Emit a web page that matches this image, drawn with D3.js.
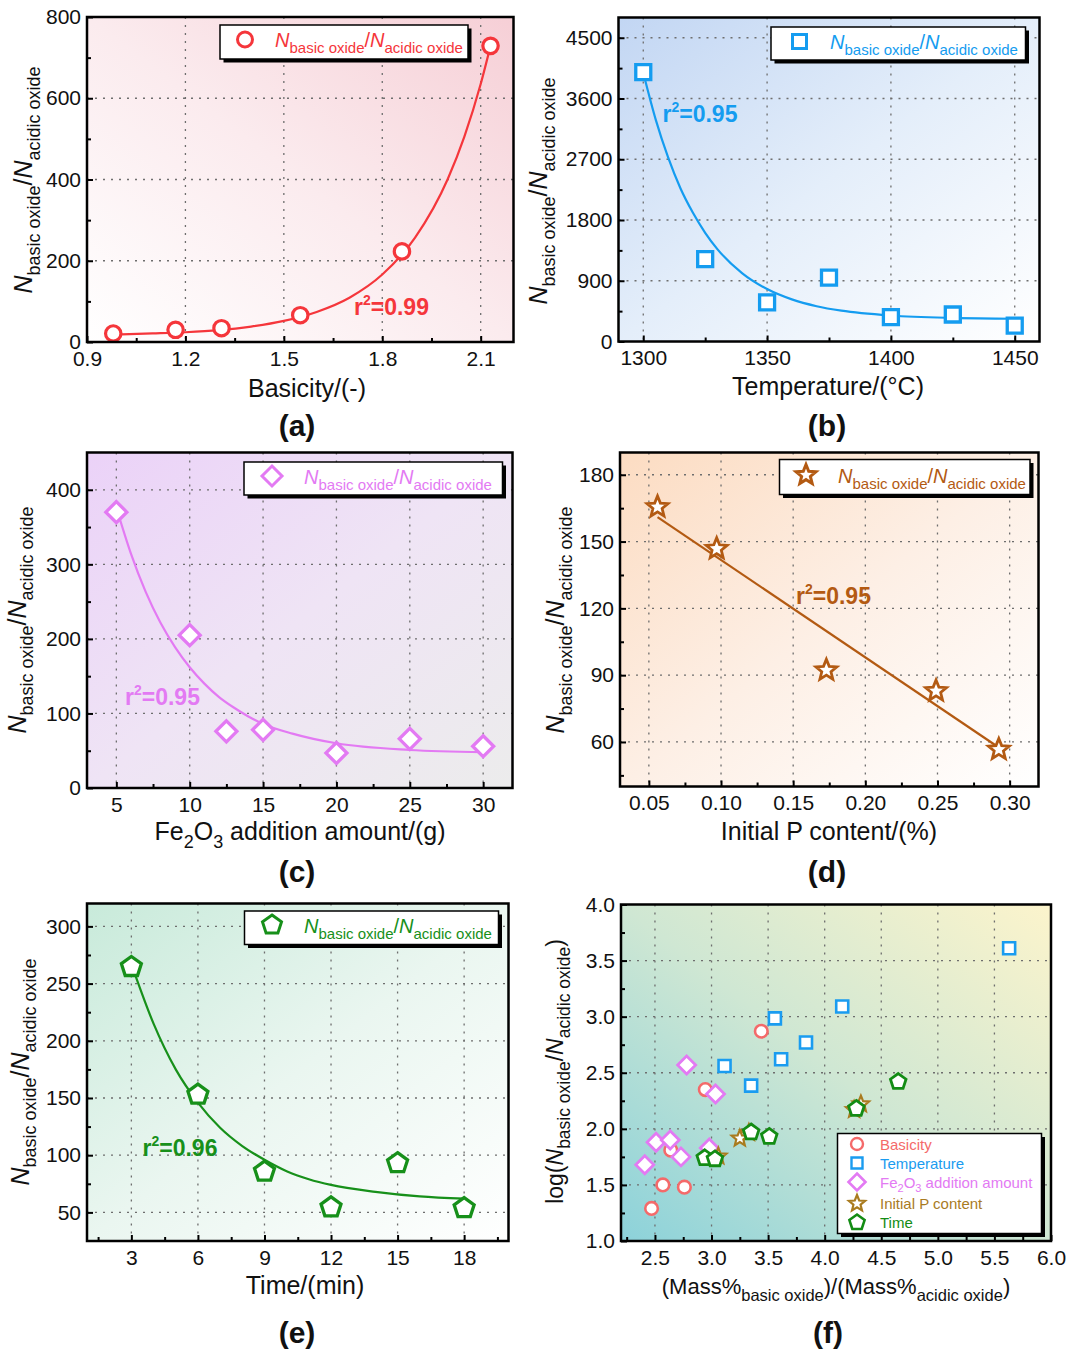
<!DOCTYPE html>
<html>
<head>
<meta charset="utf-8">
<script src="https://d3js.org/d3.v7.min.js"></script>
<style>
  body { margin: 0; background: #fff; }
  svg { display: block; }
</style>
</head>
<body>
<div id="chart"></div>
<script>
// ---- data ----
// (a) basicity
var basicity = [0.98, 1.17, 1.31, 1.55, 1.86, 2.13];
var basicityRatio = [21, 30, 34, 66, 223, 729];
var basicityFitX = [0.98, 1.1, 1.2, 1.3, 1.4, 1.5, 1.6, 1.7, 1.8, 1.9, 2.0, 2.05, 2.1, 2.13];
var basicityFitY = [18, 21, 24, 29, 38, 52, 74, 109, 166, 257, 402, 505, 635, 729];
var aTicksX = [0.9, 1.2, 1.5, 1.8, 2.1];
var aTicksY = [0, 200, 400, 600, 800];

// (b) temperature
var temperature = [1300, 1325, 1350, 1375, 1400, 1425, 1450];
var temperatureRatio = [3990, 1220, 580, 945, 360, 400, 235];
var temperatureFitX = [1300, 1305, 1310, 1315, 1320, 1325, 1330, 1340, 1350, 1360, 1370, 1380, 1400, 1425, 1450];
var temperatureFitY = [3980, 3290, 2730, 2270, 1910, 1610, 1365, 1010, 777, 624, 523, 457, 385, 349, 337];
var bTicksX = [1300, 1350, 1400, 1450];
var bTicksY = [0, 900, 1800, 2700, 3600, 4500];

// (c) Fe2O3 addition
var fe2o3 = [5, 10, 12.5, 15, 20, 25, 30];
var fe2o3Ratio = [370, 205, 76, 78, 47, 66, 56];
var fe2o3FitX = [5, 6, 7, 8, 9, 10, 11, 12, 13, 14, 15, 17, 20, 25, 30];
var fe2o3FitY = [376, 314, 263, 222, 189, 162, 140, 122, 108, 96, 86, 73, 60, 51, 48];
var cTicksX = [5, 10, 15, 20, 25, 30];
var cTicksY = [0, 100, 200, 300, 400];

// (d) initial P content
var pContent = [0.056, 0.097, 0.173, 0.249, 0.2925];
var pRatio = [165.5, 146.8, 92.2, 82.9, 56.6];
var pFitX = [0.056, 0.2925];
var pFitY = [161, 57.5];
var dTicksX = [0.05, 0.10, 0.15, 0.20, 0.25, 0.30];
var dTicksY = [60, 90, 120, 150, 180];

// (e) time
var time = [3, 6, 9, 12, 15, 18];
var timeRatio = [264.5, 153, 85.7, 54.4, 93, 53.8];
var timeFitX = [3, 4, 5, 6, 7, 8, 9, 10, 11, 12, 14, 16, 18];
var timeFitY = [267, 215, 175, 146, 124, 108, 96, 86, 79, 74, 68, 64, 62];
var eTicksX = [3, 6, 9, 12, 15, 18];
var eTicksY = [50, 100, 150, 200, 250, 300];

// (f) log ratio vs mass ratio
var fBasicityX = [3.44, 2.945, 2.64, 2.57, 2.76, 2.47];
var fBasicityY = [2.87, 2.35, 1.81, 1.50, 1.48, 1.29];
var fTempX = [5.63, 4.155, 3.56, 3.835, 3.615, 3.115, 3.35];
var fTempY = [3.61, 3.09, 2.985, 2.77, 2.62, 2.56, 2.385];
var fFeX = [2.78, 3.035, 2.51, 2.635, 2.98, 2.73, 2.41];
var fFeY = [2.57, 2.31, 1.88, 1.90, 1.83, 1.75, 1.68];
var fPX = [4.32, 4.26, 3.33, 3.25, 3.06];
var fPY = [2.22, 2.17, 1.965, 1.915, 1.755];
var fTimeX = [4.65, 4.28, 3.35, 3.51, 2.94, 3.03];
var fTimeY = [2.42, 2.18, 1.97, 1.93, 1.74, 1.73];
var fTicksX = [2.5, 3.0, 3.5, 4.0, 4.5, 5.0, 5.5, 6.0];
var fTicksY = [1.0, 1.5, 2.0, 2.5, 3.0, 3.5, 4.0];

var FONT = "Arial, 'Liberation Sans', sans-serif";

var svg = d3.select("#chart").append("svg")
  .attr("width", 1068)
  .attr("height", 1355)
  .attr("font-family", FONT);
var defs = svg.append("defs");

// marker outlines
function shapePath(type, r) {
  var p = d3.path();
  if (type === "circle") {
    p.arc(0, 0, r, 0, 2 * Math.PI);
    p.closePath();
  } else if (type === "square") {
    p.rect(-r, -r, 2 * r, 2 * r);
  } else if (type === "diamond") {
    p.moveTo(0, -r); p.lineTo(r, 0); p.lineTo(0, r); p.lineTo(-r, 0); p.closePath();
  } else if (type === "star") {
    for (var i = 0; i < 10; i++) {
      var a = -Math.PI / 2 + i * Math.PI / 5;
      var rr = i % 2 ? r * 0.44 : r;
      if (i === 0) p.moveTo(rr * Math.cos(a), rr * Math.sin(a));
      else p.lineTo(rr * Math.cos(a), rr * Math.sin(a));
    }
    p.closePath();
  } else if (type === "pentagon") {
    for (var j = 0; j < 5; j++) {
      var b = -Math.PI / 2 + j * 2 * Math.PI / 5;
      if (j === 0) p.moveTo(r * Math.cos(b), r * Math.sin(b));
      else p.lineTo(r * Math.cos(b), r * Math.sin(b));
    }
    p.closePath();
  }
  return p.toString();
}

// text with sub/superscripts
function addRich(text, parts, F, S) {
  var shift = 0;
  parts.forEach(function(p) {
    var target = p.sub ? 0.3 * F : (p.sup ? -0.42 * F : 0);
    var ts = text.append("tspan")
      .attr("dy", target - shift)
      .attr("font-size", (p.sub || p.sup) ? S : F)
      .text(p.t);
    if (p.it) ts.attr("font-style", "italic");
    shift = target;
  });
  return text;
}

var ratioParts = [
  {t: "N", it: 1}, {t: "basic oxide", sub: 1}, {t: "/"},
  {t: "N", it: 1}, {t: "acidic oxide", sub: 1}
];

function drawPanel(p) {
  var x0 = p.box[0], y0 = p.box[1], x1 = p.box[2], y1 = p.box[3];
  var x = d3.scaleLinear().domain(p.xDom).range([x0, x1]);
  var y = d3.scaleLinear().domain(p.yDom).range([y1, y0]);

  // background gradient
  var grad = defs.append("linearGradient").attr("id", "bg" + p.id)
    .attr("x1", p.gradDir[0]).attr("y1", p.gradDir[1])
    .attr("x2", p.gradDir[2]).attr("y2", p.gradDir[3]);
  p.stops.forEach(function(c, i) {
    grad.append("stop").attr("offset", i / (p.stops.length - 1)).attr("stop-color", c);
  });
  svg.append("rect")
    .attr("x", x0).attr("y", y0).attr("width", x1 - x0).attr("height", y1 - y0)
    .attr("fill", "url(#bg" + p.id + ")");

  // dotted grid
  var grid = svg.append("g")
    .attr("stroke", "#6e6e6e").attr("stroke-width", 1.3).attr("stroke-dasharray", "2,6");
  p.xTicks.filter(function(v) { return x(v) > x0 + 2 && x(v) < x1 - 2; }).forEach(function(v) {
    grid.append("line").attr("x1", x(v)).attr("x2", x(v)).attr("y1", y0).attr("y2", y1);
  });
  p.yTicks.filter(function(v) { return y(v) > y0 + 2 && y(v) < y1 - 2; }).forEach(function(v) {
    grid.append("line").attr("y1", y(v)).attr("y2", y(v)).attr("x1", x0).attr("x2", x1);
  });

  // minor tick values half way between majors
  var xStep = p.xTicks[1] - p.xTicks[0], yStep = p.yTicks[1] - p.yTicks[0];
  var xMinor = [], yMinor = [];
  for (var i = -1; i < p.xTicks.length; i++) {
    var v = p.xTicks[0] + (i + 0.5) * xStep;
    if (v > p.xDom[0] && v < p.xDom[1]) xMinor.push(v);
  }
  for (var j = -1; j < p.yTicks.length; j++) {
    var w = p.yTicks[0] + (j + 0.5) * yStep;
    if (w > p.yDom[0] && w < p.yDom[1]) yMinor.push(w);
  }

  // axes
  var xAxis = svg.append("g")
    .attr("transform", "translate(0," + y1 + ")")
    .call(d3.axisBottom(x).tickValues(p.xTicks).tickFormat(p.xFmt)
      .tickSizeInner(-6).tickSizeOuter(0).tickPadding(9));
  var yAxis = svg.append("g")
    .attr("transform", "translate(" + x0 + ",0)")
    .call(d3.axisLeft(y).tickValues(p.yTicks).tickFormat(p.yFmt)
      .tickSizeInner(-6).tickSizeOuter(0).tickPadding(6));
  svg.append("g")
    .attr("transform", "translate(0," + y1 + ")")
    .call(d3.axisBottom(x).tickValues(xMinor).tickFormat("").tickSizeInner(-4).tickSizeOuter(0));
  svg.append("g")
    .attr("transform", "translate(" + x0 + ",0)")
    .call(d3.axisLeft(y).tickValues(yMinor).tickFormat("").tickSizeInner(-4).tickSizeOuter(0));
  svg.selectAll(".domain").remove();
  [xAxis, yAxis].forEach(function(ax) {
    ax.attr("font-size", 21).attr("font-family", FONT);
    ax.selectAll("text").attr("fill", "#111");
  });
  svg.selectAll(".tick line").attr("stroke-width", 2);

  // fitted curve
  if (p.fitX) {
    svg.append("path")
      .datum(d3.zip(p.fitX, p.fitY))
      .attr("fill", "none")
      .attr("stroke", p.color)
      .attr("stroke-width", 2.2)
      .attr("d", d3.line()
        .x(function(d) { return x(d[0]); })
        .y(function(d) { return y(d[1]); })
        .curve(p.fitX.length > 2 ? d3.curveMonotoneX : d3.curveLinear));
  }

  // markers
  p.series.forEach(function(s) {
    svg.append("g").selectAll("path")
      .data(d3.zip(s.x, s.y))
      .join("path")
      .attr("transform", function(d) { return "translate(" + x(d[0]) + "," + y(d[1]) + ")"; })
      .attr("d", shapePath(s.shape, s.r))
      .attr("fill", "#fff")
      .attr("stroke", s.color)
      .attr("stroke-width", s.sw);
  });

  // frame
  svg.append("rect")
    .attr("x", x0).attr("y", y0).attr("width", x1 - x0).attr("height", y1 - y0)
    .attr("fill", "none").attr("stroke", "#000").attr("stroke-width", 2.5);

  // r^2 label
  if (p.r2) {
    addRich(svg.append("text")
      .attr("x", p.r2Pos[0]).attr("y", p.r2Pos[1])
      .attr("font-weight", "bold").attr("fill", p.color),
      [{t: "r"}, {t: "2", sup: 1}, {t: "=" + p.r2}], 23, 14);
  }

  // legend
  var L = p.legend;
  svg.append("rect").attr("x", L.box[0] + 3.5).attr("y", L.box[1] + 3.5)
    .attr("width", L.box[2] - L.box[0]).attr("height", L.box[3] - L.box[1]).attr("fill", "#000");
  svg.append("rect").attr("x", L.box[0]).attr("y", L.box[1])
    .attr("width", L.box[2] - L.box[0]).attr("height", L.box[3] - L.box[1])
    .attr("fill", "#fff").attr("stroke", "#000").attr("stroke-width", 1.5);
  L.rows.forEach(function(r) {
    svg.append("path")
      .attr("transform", "translate(" + L.mx + "," + r.y + ")")
      .attr("d", shapePath(r.shape, r.r))
      .attr("fill", "#fff").attr("stroke", r.color).attr("stroke-width", r.sw);
    addRich(svg.append("text")
      .attr("x", L.tx).attr("y", r.y + L.dy).attr("fill", r.color),
      r.parts, L.F, L.S);
  });

  // axis titles
  addRich(svg.append("text")
    .attr("x", p.xTitle[0]).attr("y", p.xTitle[1])
    .attr("text-anchor", "middle").attr("fill", "#111"),
    p.xTitleParts, p.xTitleF || 25, p.xTitleS || 18);
  addRich(svg.append("text")
    .attr("transform", "translate(" + p.yTitle[0] + "," + p.yTitle[1] + ") rotate(-90)")
    .attr("text-anchor", "middle").attr("fill", "#111"),
    p.yTitleParts, p.yTitleF || 25, p.yTitleS || 18);

  // panel letter
  svg.append("text")
    .attr("x", p.tag[0]).attr("y", p.tag[1])
    .attr("text-anchor", "middle").attr("font-weight", "bold")
    .attr("font-size", 30).attr("fill", "#111")
    .text("(" + p.id + ")");
}

function singleLegend(box, mx, my, tx, shape, r, color) {
  return {
    box: box, mx: mx, tx: tx, dy: 7.5, F: 20, S: 15,
    rows: [{y: my, shape: shape, r: r, color: color, sw: 3, parts: ratioParts}]
  };
}

var f1 = d3.format(".1f"), f2 = d3.format(".2f"), fi = d3.format("d");

var red = "#f5363b", blue = "#149cf0", violet = "#e37af3", brown = "#b35a12", green = "#17901a";

drawPanel({
  id: "a", box: [87, 17, 513.5, 342], xDom: [0.9, 2.2], yDom: [0, 800],
  xTicks: aTicksX, yTicks: aTicksY, xFmt: f1, yFmt: fi,
  gradDir: [0, 1, 1, 0], stops: ["#ffffff", "#fbebee", "#f6cfd6"],
  color: red, fitX: basicityFitX, fitY: basicityFitY,
  series: [{x: basicity, y: basicityRatio, shape: "circle", r: 7.7, sw: 3.2, color: red}],
  r2: "0.99", r2Pos: [354, 315],
  legend: singleLegend([220, 25, 468, 59], 245, 39.5, 275, "circle", 7.5, red),
  xTitle: [307, 397], xTitleParts: [{t: "Basicity/(-)"}],
  yTitle: [32, 180], yTitleParts: ratioParts,
  tag: [297, 436]
});

drawPanel({
  id: "b", box: [618.5, 17.5, 1039.5, 341.5], xDom: [1290, 1460], yDom: [0, 4800],
  xTicks: bTicksX, yTicks: bTicksY, xFmt: fi, yFmt: fi,
  gradDir: [0, 0, 1, 1], stops: ["#c2d6f3", "#e4eefa", "#ffffff"],
  color: blue, fitX: temperatureFitX, fitY: temperatureFitY,
  series: [{x: temperature, y: temperatureRatio, shape: "square", r: 7.5, sw: 3.3, color: blue}],
  r2: "0.95", r2Pos: [662.5, 122],
  legend: singleLegend([771, 27, 1025.5, 60], 799.5, 41.5, 830, "square", 7, blue),
  xTitle: [828, 395], xTitleParts: [{t: "Temperature/(\u00b0C)"}],
  yTitle: [547, 191], yTitleParts: ratioParts,
  tag: [827, 436]
});

drawPanel({
  id: "c", box: [87, 452.5, 512.5, 788], xDom: [3, 32], yDom: [0, 450],
  xTicks: cTicksX, yTicks: cTicksY, xFmt: fi, yFmt: fi,
  gradDir: [0, 0, 1, 1], stops: ["#ebd2f8", "#efe4f5", "#ececec"],
  color: violet, fitX: fe2o3FitX, fitY: fe2o3FitY,
  series: [{x: fe2o3, y: fe2o3Ratio, shape: "diamond", r: 10.5, sw: 3.3, color: violet}],
  r2: "0.95", r2Pos: [125, 705],
  legend: singleLegend([244, 462, 502.5, 495], 272, 476, 304, "diamond", 10, violet),
  xTitle: [300, 840],
  xTitleParts: [{t: "Fe"}, {t: "2", sub: 1}, {t: "O"}, {t: "3", sub: 1}, {t: " addition amount/(g)"}],
  yTitle: [25.5, 620], yTitleParts: ratioParts,
  tag: [297, 882]
});

drawPanel({
  id: "d", box: [620, 452.5, 1038.5, 786.5], xDom: [0.03, 0.32], yDom: [40, 190],
  xTicks: dTicksX, yTicks: dTicksY, xFmt: f2, yFmt: fi,
  gradDir: [0, 0, 1, 1], stops: ["#fcdcc2", "#fdefe5", "#ffffff"],
  color: brown, fitX: pFitX, fitY: pFitY,
  series: [{x: pContent, y: pRatio, shape: "star", r: 11, sw: 2.8, color: brown}],
  r2: "0.95", r2Pos: [796, 604],
  legend: singleLegend([779.5, 459.5, 1030, 494.5], 806, 475, 838, "star", 10.5, brown),
  xTitle: [829, 840], xTitleParts: [{t: "Initial P content/(%)"}],
  yTitle: [564, 620], yTitleParts: ratioParts,
  tag: [827, 882]
});

drawPanel({
  id: "e", box: [87, 903.5, 508.5, 1241], xDom: [1, 20], yDom: [25, 320],
  xTicks: eTicksX, yTicks: eTicksY, xFmt: fi, yFmt: fi,
  gradDir: [0, 0, 1, 1], stops: ["#c8eada", "#eaf6f0", "#ffffff"],
  color: green, fitX: timeFitX, fitY: timeFitY,
  series: [{x: time, y: timeRatio, shape: "pentagon", r: 10.5, sw: 3.3, color: green}],
  r2: "0.96", r2Pos: [142.5, 1156],
  legend: singleLegend([244.5, 911, 498.5, 944.5], 272, 925, 304, "pentagon", 10, green),
  xTitle: [305, 1294], xTitleParts: [{t: "Time/(min)"}],
  yTitle: [28.5, 1072], yTitleParts: ratioParts,
  tag: [297, 1343]
});

var fRed = "#f46a6a", fBlue = "#1a9cf0", fViolet = "#e37af3", fGold = "#a97b1f", fGreen = "#138c14";

drawPanel({
  id: "f", box: [621, 904.5, 1051, 1241], xDom: [2.2, 6.0], yDom: [1, 4],
  xTicks: fTicksX, yTicks: fTicksY, xFmt: f1, yFmt: f1,
  gradDir: [0, 1, 1, 0], stops: ["#8cd2da", "#cfe7d3", "#fcf4cc"],
  color: "#000",
  series: [
    {x: fBasicityX, y: fBasicityY, shape: "circle", r: 6.3, sw: 2.6, color: fRed},
    {x: fTempX, y: fTempY, shape: "square", r: 6, sw: 2.6, color: fBlue},
    {x: fFeX, y: fFeY, shape: "diamond", r: 9, sw: 2.8, color: fViolet},
    {x: fPX, y: fPY, shape: "star", r: 8.5, sw: 2.2, color: fGold},
    {x: fTimeX, y: fTimeY, shape: "pentagon", r: 8.2, sw: 2.8, color: fGreen}
  ],
  legend: {
    box: [837.5, 1133.5, 1041.5, 1233.5], mx: 857, tx: 880, dy: 5.5, F: 15, S: 11,
    rows: [
      {y: 1144, shape: "circle", r: 6, sw: 2.4, color: fRed, parts: [{t: "Basicity"}]},
      {y: 1163, shape: "square", r: 5.5, sw: 2.4, color: fBlue, parts: [{t: "Temperature"}]},
      {y: 1182, shape: "diamond", r: 8.5, sw: 2.6, color: fViolet,
        parts: [{t: "Fe"}, {t: "2", sub: 1}, {t: "O"}, {t: "3", sub: 1}, {t: " addition amount"}]},
      {y: 1203.5, shape: "star", r: 8.5, sw: 2.2, color: fGold, parts: [{t: "Initial P content"}]},
      {y: 1222.5, shape: "pentagon", r: 8, sw: 2.6, color: fGreen, parts: [{t: "Time"}]}
    ]
  },
  xTitle: [836, 1294], xTitleF: 22, xTitleS: 16.5,
  xTitleParts: [{t: "(Mass%"}, {t: "basic oxide", sub: 1}, {t: ")/(Mass%"}, {t: "acidic oxide", sub: 1}, {t: ")"}],
  yTitle: [563, 1071.5], yTitleF: 23, yTitleS: 17.5,
  yTitleParts: [{t: "log("}, {t: "N", it: 1}, {t: "basic oxide", sub: 1}, {t: "/"},
    {t: "N", it: 1}, {t: "acidic oxide", sub: 1}, {t: ")"}],
  tag: [828, 1343]
});
</script>
</body>
</html>
